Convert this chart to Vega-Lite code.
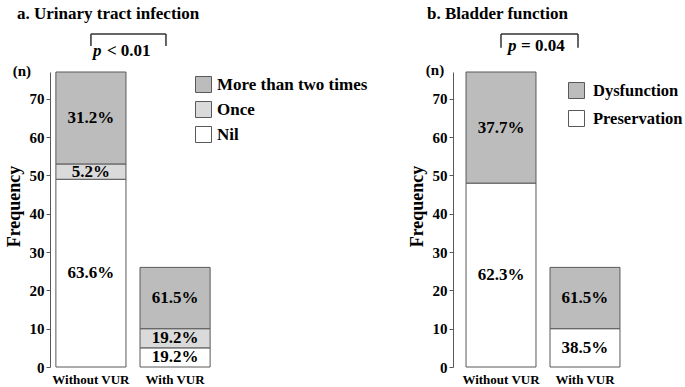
{
  "$schema": "https://vega.github.io/schema/vega-lite/v6.json",
  "padding": {"left": 5, "top": 5, "right": 5, "bottom": 0},
  "background": "white",
  "config": {
    "font": "Liberation Serif",
    "view": {"stroke": null},
    "title": {"font": "Liberation Serif", "fontSize": 17, "fontWeight": "bold", "color": "black"},
    "text": {"font": "Liberation Serif", "fontWeight": "bold", "color": "black"}
  },
  "datasets": {
    "uti": [
      {"group": "Without VUR", "category": "Nil", "count": 49, "rank": 1, "pct": "63.6%"},
      {"group": "Without VUR", "category": "Once", "count": 4, "rank": 2, "pct": "5.2%"},
      {"group": "Without VUR", "category": "More than two times", "count": 24, "rank": 3, "pct": "31.2%"},
      {"group": "With VUR", "category": "Nil", "count": 5, "rank": 1, "pct": "19.2%"},
      {"group": "With VUR", "category": "Once", "count": 5, "rank": 2, "pct": "19.2%"},
      {"group": "With VUR", "category": "More than two times", "count": 16, "rank": 3, "pct": "61.5%"}
    ],
    "bladder": [
      {"group": "Without VUR", "category": "Preservation", "count": 48, "rank": 1, "pct": "62.3%"},
      {"group": "Without VUR", "category": "Dysfunction", "count": 29, "rank": 2, "pct": "37.7%"},
      {"group": "With VUR", "category": "Preservation", "count": 10, "rank": 1, "pct": "38.5%"},
      {"group": "With VUR", "category": "Dysfunction", "count": 16, "rank": 2, "pct": "61.5%"}
    ]
  },
  "resolve": {"scale": {"color": "independent", "x": "independent", "y": "independent"}, "legend": {"color": "independent"}},
  "spacing": 40,
  "hconcat": [
    {
      "width": 166,
      "height": 295,
      "title": {"text": "a. Urinary tract infection", "anchor": "start", "frame": "bounds", "dx": 12, "offset": 10},
      "data": {"name": "uti"},
      "layer": [
        {
          "transform": [{"stack": "count", "groupby": ["group"], "sort": [{"field": "rank"}], "as": ["y0", "y1"]}],
          "mark": {"type": "bar", "stroke": "#595959", "strokeWidth": 1},
          "encoding": {
            "x": {"field": "group", "type": "nominal", "sort": ["Without VUR", "With VUR"],
              "scale": {"paddingInner": 0.167, "paddingOuter": 0.07},
              "axis": {"title": null, "labelAngle": 0, "domain": false, "ticks": false, "labelPadding": 6,
                "labelFont": "Liberation Serif", "labelFontSize": 13, "labelFontWeight": "bold", "labelColor": "black"}},
            "y": {"field": "y0", "type": "quantitative", "scale": {"domain": [0, 77], "nice": false},
              "axis": {"values": [0, 10, 20, 30, 40, 50, 60, 70], "title": "Frequency", "grid": false, "titleY": 134,
                "titleFont": "Liberation Serif", "titleFontSize": 18, "titleFontWeight": "bold", "titleColor": "black", "titlePadding": 6,
                "labelFont": "Liberation Serif", "labelFontSize": 15, "labelFontWeight": "bold", "labelColor": "black", "labelPadding": 2,
                "tickSize": 4, "tickColor": "#595959", "domainColor": "#595959"}},
            "y2": {"field": "y1"},
            "color": {"field": "category", "type": "nominal",
              "scale": {"domain": ["More than two times", "Once", "Nil"], "range": ["#bcbcbc", "#dadada", "#ffffff"]},
              "legend": {"orient": "none", "legendX": 145, "legendY": 4, "title": null, "symbolType": "square", "symbolSize": 256,
                "symbolStrokeColor": "#595959", "symbolStrokeWidth": 1, "labelFont": "Liberation Serif", "labelFontSize": 17,
                "labelFontWeight": "bold", "labelColor": "black", "rowPadding": 4, "labelOffset": 5}}
          }
        },
        {
          "transform": [
            {"stack": "count", "groupby": ["group"], "sort": [{"field": "rank"}], "as": ["y0", "y1"]},
            {"calculate": "(datum.y0 + datum.y1) / 2", "as": "mid"}
          ],
          "mark": {"type": "text", "fontSize": 17, "baseline": "middle"},
          "encoding": {
            "x": {"field": "group", "type": "nominal", "sort": ["Without VUR", "With VUR"]},
            "y": {"field": "mid", "type": "quantitative"},
            "text": {"field": "pct"}
          }
        },
        {
          "data": {"values": [{}]},
          "mark": {"type": "rule", "color": "#333333", "strokeWidth": 1.5},
          "encoding": {
            "x": {"datum": "Without VUR", "type": "nominal"},
            "x2": {"datum": "With VUR", "bandPosition": 0.37},
            "y": {"datum": 86.9, "type": "quantitative"}
          }
        },
        {
          "data": {"values": [{}]},
          "mark": {"type": "rule", "color": "#333333", "strokeWidth": 1.5},
          "encoding": {
            "x": {"datum": "Without VUR", "type": "nominal"},
            "y": {"datum": 83.8, "type": "quantitative"},
            "y2": {"datum": 86.9}
          }
        },
        {
          "data": {"values": [{}]},
          "mark": {"type": "rule", "color": "#333333", "strokeWidth": 1.5},
          "encoding": {
            "x": {"datum": "With VUR", "type": "nominal", "bandPosition": 0.37},
            "y": {"datum": 83.8, "type": "quantitative"},
            "y2": {"datum": 86.9}
          }
        },
        {
          "data": {"values": [{}]},
          "mark": {"type": "text", "fontSize": 17, "fontStyle": "italic", "align": "left", "baseline": "alphabetic", "dx": 2},
          "encoding": {
            "x": {"datum": "Without VUR", "type": "nominal"},
            "y": {"datum": 81.2, "type": "quantitative"},
            "text": {"value": "p"}
          }
        },
        {
          "data": {"values": [{}]},
          "mark": {"type": "text", "fontSize": 17, "align": "left", "baseline": "alphabetic", "dx": 16},
          "encoding": {
            "x": {"datum": "Without VUR", "type": "nominal"},
            "y": {"datum": 81.2, "type": "quantitative"},
            "text": {"value": "< 0.01"}
          }
        },
        {
          "data": {"values": [{}]},
          "mark": {"type": "text", "fontSize": 15, "align": "center", "baseline": "alphabetic", "dx": -69},
          "encoding": {
            "x": {"datum": "Without VUR", "type": "nominal"},
            "y": {"datum": 76, "type": "quantitative"},
            "text": {"value": "(n)"}
          }
        }
      ]
    },
    {
      "width": 180,
      "height": 295,
      "title": {"text": "b. Bladder function", "anchor": "start", "frame": "bounds", "dx": 19, "offset": 10},
      "data": {"name": "bladder"},
      "layer": [
        {
          "transform": [{"stack": "count", "groupby": ["group"], "sort": [{"field": "rank"}], "as": ["y0", "y1"]}],
          "mark": {"type": "bar", "stroke": "#595959", "strokeWidth": 1},
          "encoding": {
            "x": {"field": "group", "type": "nominal", "sort": ["Without VUR", "With VUR"],
              "scale": {"paddingInner": 0.167, "paddingOuter": 0.155},
              "axis": {"title": null, "labelAngle": 0, "domain": false, "ticks": false, "labelPadding": 6,
                "labelFont": "Liberation Serif", "labelFontSize": 13, "labelFontWeight": "bold", "labelColor": "black"}},
            "y": {"field": "y0", "type": "quantitative", "scale": {"domain": [0, 77], "nice": false},
              "axis": {"values": [0, 10, 20, 30, 40, 50, 60, 70], "title": "Frequency", "grid": false, "titleY": 134,
                "titleFont": "Liberation Serif", "titleFontSize": 18, "titleFontWeight": "bold", "titleColor": "black", "titlePadding": 6,
                "labelFont": "Liberation Serif", "labelFontSize": 15, "labelFontWeight": "bold", "labelColor": "black", "labelPadding": 2,
                "tickSize": 4, "tickColor": "#595959", "domainColor": "#595959"}},
            "y2": {"field": "y1"},
            "color": {"field": "category", "type": "nominal",
              "scale": {"domain": ["Dysfunction", "Preservation"], "range": ["#bcbcbc", "#ffffff"]},
              "legend": {"orient": "none", "legendX": 115, "legendY": 10, "title": null, "symbolType": "square", "symbolSize": 256,
                "symbolStrokeColor": "#595959", "symbolStrokeWidth": 1, "labelFont": "Liberation Serif", "labelFontSize": 16.5,
                "labelFontWeight": "bold", "labelColor": "black", "rowPadding": 7, "labelOffset": 8}}
          }
        },
        {
          "transform": [
            {"stack": "count", "groupby": ["group"], "sort": [{"field": "rank"}], "as": ["y0", "y1"]},
            {"calculate": "(datum.y0 + datum.y1) / 2", "as": "mid"}
          ],
          "mark": {"type": "text", "fontSize": 17, "baseline": "middle"},
          "encoding": {
            "x": {"field": "group", "type": "nominal", "sort": ["Without VUR", "With VUR"]},
            "y": {"field": "mid", "type": "quantitative"},
            "text": {"field": "pct"}
          }
        },
        {
          "data": {"values": [{}]},
          "mark": {"type": "rule", "color": "#333333", "strokeWidth": 1.5},
          "encoding": {
            "x": {"datum": "Without VUR", "type": "nominal"},
            "x2": {"datum": "With VUR", "bandPosition": 0.4},
            "y": {"datum": 86.9, "type": "quantitative"}
          }
        },
        {
          "data": {"values": [{}]},
          "mark": {"type": "rule", "color": "#333333", "strokeWidth": 1.5},
          "encoding": {
            "x": {"datum": "Without VUR", "type": "nominal"},
            "y": {"datum": 83.3, "type": "quantitative"},
            "y2": {"datum": 86.9}
          }
        },
        {
          "data": {"values": [{}]},
          "mark": {"type": "rule", "color": "#333333", "strokeWidth": 1.5},
          "encoding": {
            "x": {"datum": "With VUR", "type": "nominal", "bandPosition": 0.4},
            "y": {"datum": 83.3, "type": "quantitative"},
            "y2": {"datum": 86.9}
          }
        },
        {
          "data": {"values": [{}]},
          "mark": {"type": "text", "fontSize": 17, "fontStyle": "italic", "align": "left", "baseline": "alphabetic", "dx": 7},
          "encoding": {
            "x": {"datum": "Without VUR", "type": "nominal"},
            "y": {"datum": 82.5, "type": "quantitative"},
            "text": {"value": "p"}
          }
        },
        {
          "data": {"values": [{}]},
          "mark": {"type": "text", "fontSize": 17, "align": "left", "baseline": "alphabetic", "dx": 20},
          "encoding": {
            "x": {"datum": "Without VUR", "type": "nominal"},
            "y": {"datum": 82.5, "type": "quantitative"},
            "text": {"value": "= 0.04"}
          }
        },
        {
          "data": {"values": [{}]},
          "mark": {"type": "text", "fontSize": 15, "align": "center", "baseline": "alphabetic", "dx": -66},
          "encoding": {
            "x": {"datum": "Without VUR", "type": "nominal"},
            "y": {"datum": 76.2, "type": "quantitative"},
            "text": {"value": "(n)"}
          }
        }
      ]
    }
  ]
}
